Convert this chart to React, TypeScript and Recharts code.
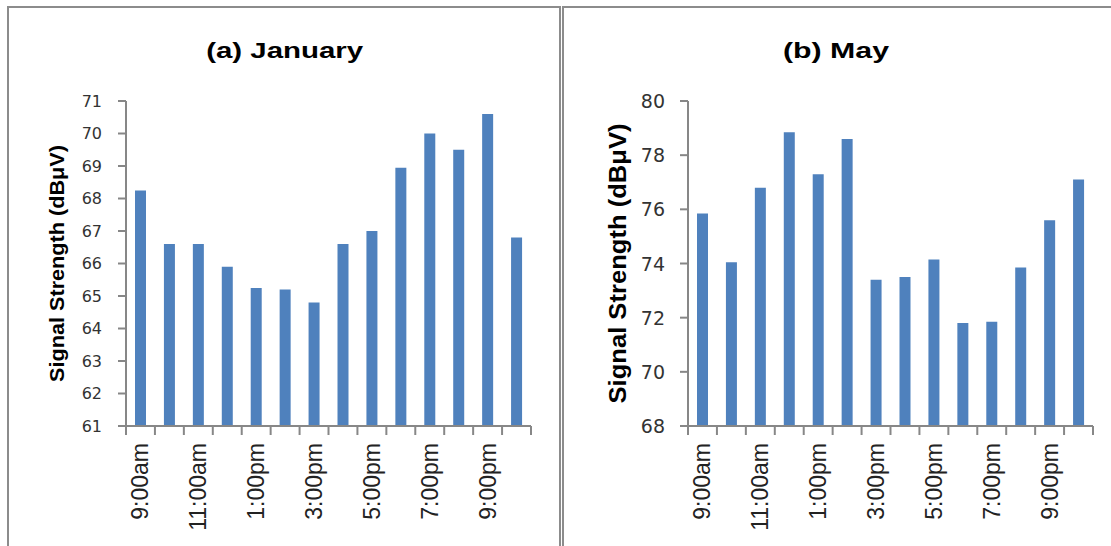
import React from "react";
import { BarChart, Bar, XAxis, YAxis } from "recharts";

const TIME_SLOTS = [
  "9:00am", "10:00am", "11:00am", "12:00pm", "1:00pm", "2:00pm", "3:00pm",
  "4:00pm", "5:00pm", "6:00pm", "7:00pm", "8:00pm", "9:00pm", "10:00pm",
];
const JANUARY = [68.25, 66.6, 66.6, 65.9, 65.25, 65.2, 64.8, 66.6, 67.0, 68.95, 70.0, 69.5, 70.6, 66.8];
const MAY = [75.85, 74.05, 76.8, 78.85, 77.3, 78.6, 73.4, 73.5, 74.15, 71.8, 71.85, 73.85, 75.6, 77.1];
const JANUARY_TICKS = [61, 62, 63, 64, 65, 66, 67, 68, 69, 70, 71];
const MAY_TICKS = [68, 70, 72, 74, 76, 78, 80];

const AXIS_TITLE = "Signal Strength (dB\u03bcV)";

const data = TIME_SLOTS.map((time, i) => ({ time, jan: JANUARY[i], may: MAY[i] }));

const BLUE = "#4f81bd";
const AXIS_GREY = "#878787";
const BORDER_GREY = "#8c8c8c";
const Y_AXIS_W = 126;
const X_TICK = 9;
const X_TICK_GAP = 8;

// category tick: marks on the slot boundaries, label on every other slot
function makeXTick(slotWidth: number) {
  return (props: any) => {
    const { x, y, payload, index } = props;
    const axisY = y - X_TICK - X_TICK_GAP;
    const edges = [x - slotWidth / 2];
    if (index === TIME_SLOTS.length - 1) edges.push(x + slotWidth / 2);
    return (
      <g>
        {edges.map((ex) => (
          <line
            key={ex}
            x1={ex}
            x2={ex}
            y1={axisY}
            y2={axisY + X_TICK}
            stroke={AXIS_GREY}
            strokeWidth={2}
          />
        ))}
        {index % 2 === 0 && (
          <text
            x={x}
            y={y}
            transform={`rotate(-90, ${x}, ${y})`}
            textAnchor="end"
            dominantBaseline="central"
            fontFamily="Liberation Sans, Arial, sans-serif"
            fontSize={23}
            fill="#222"
          >
            {payload.value}
          </text>
        )}
      </g>
    );
  };
}

function makeYTick(fontSize: number) {
  return (props: any) => {
    const { x, y, payload } = props;
    return (
      <text
        x={x}
        y={y}
        textAnchor="end"
        dominantBaseline="central"
        fontFamily="DejaVu Sans, sans-serif"
        fontSize={fontSize}
        fill="#333"
      >
        {payload.value}
      </text>
    );
  };
}

type PanelProps = {
  dataKey: string;
  ticks: number[];
  left: number;
  width: number;
  marginRight: number;
  tickFont: number;
  tickMargin: number;
  titleX: number;
  titleFont: number;
  titleLength: number;
};

function SignalPanel(p: PanelProps) {
  const domain = [p.ticks[0], p.ticks[p.ticks.length - 1]];
  const slotWidth = (p.width - p.marginRight - Y_AXIS_W) / TIME_SLOTS.length;
  return (
    <div style={{ position: "absolute", left: p.left, top: 0 }}>
      <BarChart
        width={p.width}
        height={546}
        data={data}
        margin={{ top: 101, right: p.marginRight, bottom: 0, left: 0 }}
      >
        <XAxis
          dataKey="time"
          interval={0}
          height={120}
          tickSize={X_TICK}
          tickMargin={X_TICK_GAP}
          tickLine={false}
          axisLine={{ stroke: AXIS_GREY, strokeWidth: 2 }}
          tick={makeXTick(slotWidth)}
        />
        <YAxis
          width={Y_AXIS_W}
          domain={domain}
          ticks={p.ticks}
          interval={0}
          tickSize={8}
          tickMargin={p.tickMargin}
          tick={makeYTick(p.tickFont)}
          axisLine={{ stroke: AXIS_GREY, strokeWidth: 2 }}
          tickLine={{ stroke: AXIS_GREY, strokeWidth: 2 }}
          label={{
            content: (lp: any) => {
              const vb = lp.viewBox;
              const cx = vb.x + p.titleX;
              const cy = vb.y + vb.height / 2;
              return (
                <text
                  x={cx}
                  y={cy}
                  transform={`rotate(-90, ${cx}, ${cy})`}
                  textAnchor="middle"
                  dominantBaseline="central"
                  fontFamily="Liberation Sans, Arial, sans-serif"
                  fontWeight="bold"
                  fontSize={p.titleFont}
                  textLength={p.titleLength}
                  lengthAdjust="spacingAndGlyphs"
                  fill="#000"
                >
                  {AXIS_TITLE}
                </text>
              );
            },
          }}
        />
        <Bar dataKey={p.dataKey} fill={BLUE} barSize={11} isAnimationActive={false} />
      </BarChart>
    </div>
  );
}

export default function App() {
  return (
    <div
      style={{
        position: "absolute",
        left: 0,
        top: 0,
        width: 1111,
        height: 546,
        overflow: "hidden",
        background: "#fff",
      }}
    >
      <div
        style={{
          position: "absolute",
          left: 7,
          top: 6,
          width: 554,
          height: 600,
          boxSizing: "border-box",
          borderLeft: `2px solid ${BORDER_GREY}`,
          borderTop: `2px solid ${BORDER_GREY}`,
          borderRight: `2px solid ${BORDER_GREY}`,
        }}
      />
      <div
        style={{
          position: "absolute",
          left: 562,
          top: 6,
          width: 600,
          height: 600,
          boxSizing: "border-box",
          borderLeft: `2px solid ${BORDER_GREY}`,
          borderTop: `2px solid ${BORDER_GREY}`,
        }}
      />
      <SignalPanel
        dataKey="jan"
        ticks={JANUARY_TICKS}
        left={0}
        width={560}
        marginRight={29}
        tickFont={16}
        tickMargin={16}
        titleX={57}
        titleFont={20}
        titleLength={237}
      />
      <SignalPanel
        dataKey="may"
        ticks={MAY_TICKS}
        left={562}
        width={549}
        marginRight={18}
        tickFont={19}
        tickMargin={15}
        titleX={55}
        titleFont={24}
        titleLength={280}
      />
      <svg
        width={1111}
        height={546}
        style={{ position: "absolute", left: 0, top: 0, pointerEvents: "none" }}
      >
        <text
          x={284.7}
          y={58}
          textAnchor="middle"
          fontFamily="Liberation Sans, Arial, sans-serif"
          fontWeight="bold"
          fontSize={22}
          textLength={157}
          lengthAdjust="spacingAndGlyphs"
        >
          (a) January
        </text>
        <text
          x={836}
          y={58}
          textAnchor="middle"
          fontFamily="Liberation Sans, Arial, sans-serif"
          fontWeight="bold"
          fontSize={22}
          textLength={106}
          lengthAdjust="spacingAndGlyphs"
        >
          (b) May
        </text>
      </svg>
    </div>
  );
}
